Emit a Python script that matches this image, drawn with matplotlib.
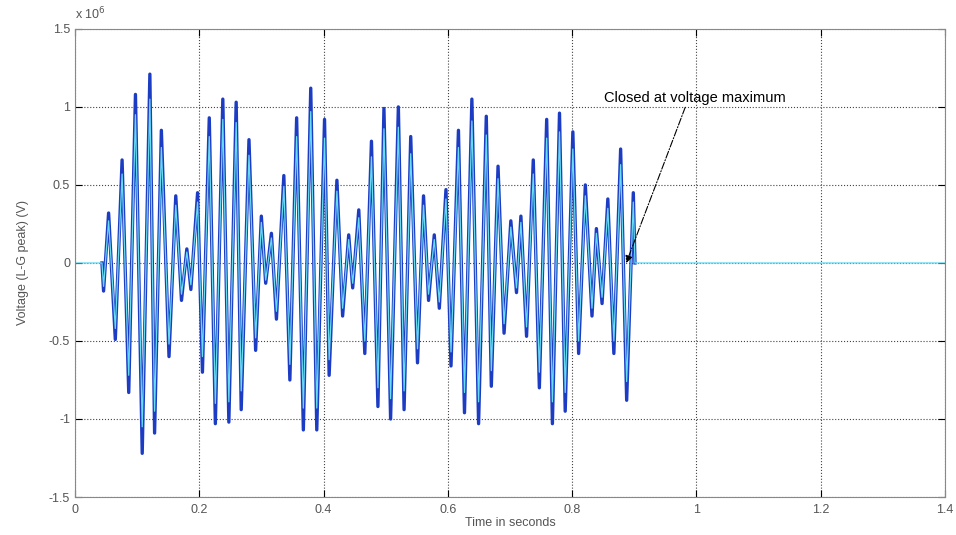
import matplotlib.pyplot as plt

# Extrema of the recorded waveforms (time in s, voltage in units of 1e6 V)
t_peaks = [0.0433, 0.0459, 0.0540, 0.0648, 0.0757, 0.0864, 0.0972, 0.1081, 0.1204, 0.1280,
           0.1389, 0.1512, 0.1621, 0.1713, 0.1799, 0.1864, 0.1972, 0.2050, 0.2160, 0.2258,
           0.2378, 0.2475, 0.2593, 0.2674, 0.2799, 0.2906, 0.2998, 0.3068, 0.3160, 0.3241,
           0.3360, 0.3457, 0.3566, 0.3674, 0.3793, 0.3890, 0.4015, 0.4089, 0.4214, 0.4306,
           0.4404, 0.4468, 0.4566, 0.4663, 0.4770, 0.4874, 0.4971, 0.5078, 0.5203, 0.5295,
           0.5402, 0.5511, 0.5608, 0.5689, 0.5781, 0.5862, 0.5969, 0.6050, 0.6170, 0.6267,
           0.6386, 0.6494, 0.6618, 0.6699, 0.6807, 0.6904, 0.7013, 0.7104, 0.7175, 0.7266,
           0.7374, 0.7472, 0.7590, 0.7682, 0.7796, 0.7888, 0.8011, 0.8104, 0.8212, 0.8319,
           0.8390, 0.8481, 0.8574, 0.8671, 0.8780, 0.8877, 0.8984, 0.9011]

v_blue = [0, -0.18, 0.32, -0.49, 0.66, -0.83, 1.08, -1.22, 1.21, -1.09,
          0.85, -0.60, 0.43, -0.24, 0.09, -0.17, 0.45, -0.70, 0.93, -1.03,
          1.05, -1.02, 1.03, -0.94, 0.79, -0.56, 0.30, -0.13, 0.19, -0.36,
          0.56, -0.75, 0.93, -1.07, 1.12, -1.07, 0.92, -0.72, 0.53, -0.34,
          0.18, -0.16, 0.34, -0.58, 0.78, -0.92, 0.99, -1.00, 1.00, -0.94,
          0.81, -0.64, 0.43, -0.24, 0.18, -0.29, 0.47, -0.66, 0.85, -0.96,
          1.05, -1.03, 0.94, -0.79, 0.62, -0.45, 0.27, -0.19, 0.30, -0.47,
          0.66, -0.80, 0.92, -1.03, 0.96, -0.95, 0.84, -0.58, 0.50, -0.34,
          0.22, -0.26, 0.41, -0.58, 0.73, -0.88, 0.45, 0]

v_cyan = [0, -0.15, 0.27, -0.42, 0.57, -0.72, 0.95, -1.05, 1.05, -0.95,
          0.74, -0.52, 0.37, -0.20, 0.07, -0.14, 0.39, -0.60, 0.81, -0.90,
          0.92, -0.89, 0.90, -0.82, 0.69, -0.48, 0.26, -0.11, 0.16, -0.31,
          0.49, -0.65, 0.81, -0.93, 0.97, -0.93, 0.80, -0.62, 0.46, -0.29,
          0.15, -0.13, 0.29, -0.50, 0.68, -0.80, 0.86, -0.87, 0.87, -0.82,
          0.70, -0.55, 0.37, -0.20, 0.15, -0.25, 0.41, -0.57, 0.74, -0.83,
          0.91, -0.89, 0.82, -0.69, 0.54, -0.39, 0.23, -0.16, 0.26, -0.41,
          0.57, -0.70, 0.80, -0.89, 0.84, -0.83, 0.73, -0.50, 0.43, -0.29,
          0.19, -0.22, 0.35, -0.50, 0.63, -0.76, 0.39, 0]

# the cyan trace sits at zero before and after the event
t_start = 0.0
t_end = 1.4

x_ticks = [0, 0.2, 0.4, 0.6, 0.8, 1.0, 1.2, 1.4]
x_labels = ["0", "0.2", "0.4", "0.6", "0.8", "1", "1.2", "1.4"]
y_ticks = [-1.5, -1, -0.5, 0, 0.5, 1, 1.5]
y_labels = ["-1.5", "-1", "-0.5", "0", "0.5", "1", "1.5"]

plt.rcParams['font.family'] = ['Liberation Sans', 'DejaVu Sans']

fig = plt.figure(figsize=(9.56, 5.35), dpi=100)
ax = fig.add_axes([0.0785, 0.071, 0.910, 0.875])

ax.plot(t_peaks, v_blue, color='#1d3cc4', lw=2.4, solid_joinstyle='round')
ax.plot([t_start] + t_peaks + [t_end], [0] + v_cyan + [0], color='#66dcf2', lw=0.9)

ax.set_xlim(0, 1.4)
ax.set_ylim(-1.5, 1.5)
ax.set_xticks(x_ticks)
ax.set_xticklabels(x_labels)
ax.set_yticks(y_ticks)
ax.set_yticklabels(y_labels)
ax.tick_params(direction='in', length=5, labelsize=9, labelcolor='#555555',
               top=True, right=True, width=0.8)
ax.tick_params(axis='x', pad=5)
ax.grid(True, linestyle=':', color='#444444', lw=0.8)
for s in ax.spines.values():
    s.set_color('#888888')
    s.set_linewidth(0.8)

ax.text(0.0, 1.02, r"x 10$^6$", transform=ax.transAxes, fontsize=9, color='#555555')

ax.set_xlabel("Time in seconds", fontsize=9, color='#555555', labelpad=1)
ax.set_ylabel("Voltage (L-G peak) (V)", fontsize=9, color='#555555', labelpad=14)

ax.annotate("Closed at voltage maximum", xy=(0.887, 0.0), xytext=(0.852, 1.06),
            fontsize=10.5, color='black', va='center',
            arrowprops=dict(arrowstyle='-|>', color='black', lw=0.8, linestyle='-.',
                            shrinkA=0, shrinkB=0, relpos=(0.45, 0.0)))

plt.savefig("out.png", dpi=100)
